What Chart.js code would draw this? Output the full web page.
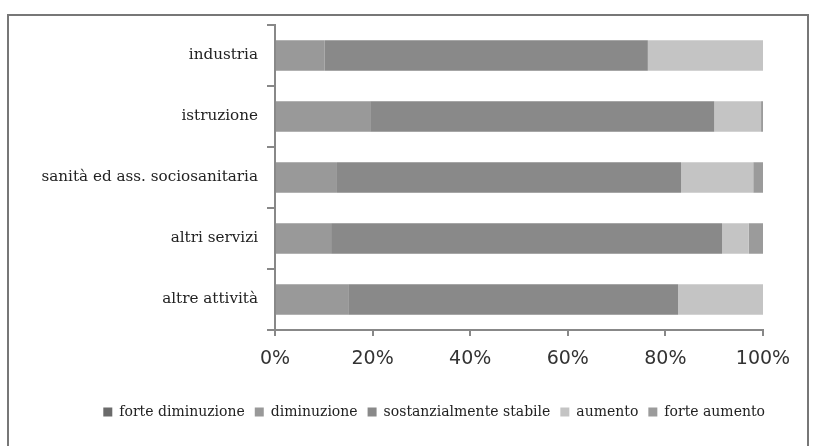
<!DOCTYPE html>
<html>
<head>
<meta charset="utf-8">
<script src="https://cdn.jsdelivr.net/npm/chart.js@4"></script>
<style>
  html, body { margin: 0; padding: 0; background: #fff; overflow: hidden; }
  #frame { position: absolute; left: 7px; top: 14px; width: 802px; height: 500px; border: 2px solid #777; box-sizing: border-box; }
  #wrap { position: absolute; left: 0; top: 0; width: 817px; height: 446px; }
</style>
</head>
<body>
<div id="frame"></div>
<div id="wrap"><canvas id="chart" width="817" height="446"></canvas></div>
<script>
// categories and series (percent of each row)
const categories = ['industria', 'istruzione', 'sanità ed ass. sociosanitaria', 'altri servizi', 'altre attività'];
const forteDiminuzione = [0, 0, 0, 0, 0];
const diminuzione = [10.2, 19.5, 12.7, 11.5, 15.0];
const stabile = [66.2, 70.5, 70.5, 80.1, 67.6];
const aumento = [23.6, 9.6, 14.8, 5.5, 17.4];
const forteAumento = [0, 0.4, 2.0, 2.9, 0];
const xTicks = [0, 20, 40, 60, 80, 100];

const serif = '"DejaVu Serif", serif';

// nudge the legend a bit to the right, as in the original
const legendShift = {
    id: 'legendShift',
    afterLayout(chart) {
        chart.legend.left += 12;
        chart.legend.right += 12;
    }
};

new Chart(document.getElementById('chart'), {
    type: 'bar',
    data: {
        labels: categories,
        datasets: [
            { label: 'forte diminuzione', data: forteDiminuzione, backgroundColor: '#6b6b6b' },
            { label: 'diminuzione', data: diminuzione, backgroundColor: '#999999' },
            { label: 'sostanzialmente stabile', data: stabile, backgroundColor: '#898989' },
            { label: 'aumento', data: aumento, backgroundColor: '#c4c4c4' },
            { label: 'forte aumento', data: forteAumento, backgroundColor: '#9b9b9b' }
        ]
    },
    options: {
        indexAxis: 'y',
        responsive: false,
        animation: false,
        layout: { padding: { top: 25, right: 54, left: 0, bottom: 17 } },
        datasets: { bar: { categoryPercentage: 1, barPercentage: 0.5, borderWidth: 0 } },
        plugins: {
            tooltip: { enabled: false },
            legend: {
                display: true,
                position: 'bottom',
                align: 'end',
                labels: {
                    color: '#222',
                    font: { size: 14, family: serif },
                    boxWidth: 9,
                    boxHeight: 9,
                    padding: 10
                }
            }
        },
        scales: {
            x: {
                stacked: true,
                min: 0,
                max: 100,
                afterFit: function(scale) { scale.height = 65; },
                afterBuildTicks: function(scale) { scale.ticks = xTicks.map(v => ({ value: v })); },
                border: { display: true, color: '#888', width: 2 },
                grid: { display: true, drawOnChartArea: false, drawTicks: true, tickLength: 6, color: '#888', lineWidth: 2 },
                ticks: {
                    color: '#333',
                    padding: 12,
                    font: { size: 19, family: '"DejaVu Sans", sans-serif' },
                    callback: v => v + '%'
                }
            },
            y: {
                stacked: true,
                afterFit: function(scale) { scale.width = 275; },
                border: { display: true, color: '#888', width: 2 },
                grid: { display: true, drawOnChartArea: false, drawTicks: true, tickLength: 8, color: '#888', lineWidth: 2 },
                ticks: {
                    color: '#222',
                    padding: 9,
                    font: { size: 15.2, family: serif }
                }
            }
        }
    },
    plugins: [legendShift]
});
</script>
</body>
</html>
